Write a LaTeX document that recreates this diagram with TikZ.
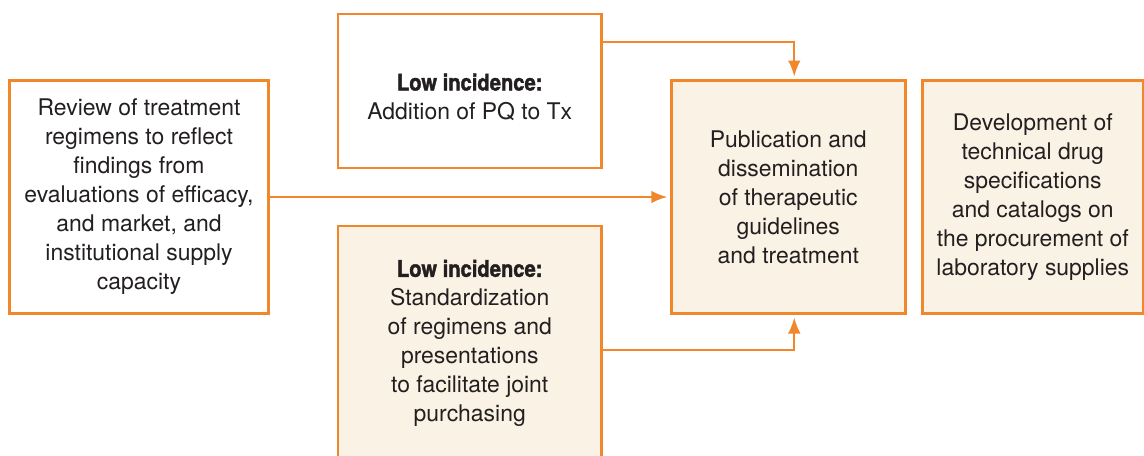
\documentclass[tikz,border=0pt]{standalone}
\usepackage{fontspec}
\setmainfont{TeX Gyre Heros}
\newfontfamily\headfont[FakeStretch=0.88,FakeBold=1.6]{TeX Gyre Heros}
\usetikzlibrary{positioning,arrows.meta}
\definecolor{boxorange}{HTML}{F0872B}
\definecolor{boxfill}{HTML}{FBF2E6}
\definecolor{inktext}{HTML}{231F20}
\tikzset{box/.style={draw=boxorange,line width=2.2pt,outer sep=0pt,align=center,text=inktext,
    font=\fontsize{17.2}{21.75}\selectfont},
  shadedbox/.style={box,fill=boxfill},
  link/.style={draw=boxorange,line width=1.5pt,-{Latex[length=12pt,width=9.5pt]},shorten >=3pt}}
\newcommand{\lowinc}{\rule{0pt}{22pt}{\headfont\bfseries Low incidence:}}

\begin{document}
\begin{tikzpicture}
    \useasboundingbox (0,0) rectangle (858pt,-341.25pt);
    \node[box,minimum width=193.9pt,minimum height=174.75pt] (review) at (104.25pt,-147.75pt)
        {Review of treatment\\regimens to reflect\\findings from\\evaluations of efficacy,\\and market, and\\institutional supply\\capacity};
    \node[shadedbox,minimum width=175.5pt,minimum height=174.75pt,right=302.25pt of review] (pub)
        {Publication and\\dissemination\\of therapeutic\\guidelines\\and treatment};
    \node[shadedbox,minimum width=165.75pt,minimum height=174.75pt,right=12.75pt of pub] (dev)
        {Development of\\technical drug\\specifications\\and catalogs on\\the procurement of\\laboratory supplies};
    \node[box,minimum width=197.6pt,minimum height=115.5pt,anchor=north west] (lowpq) at (253.5pt,-10.5pt)
        {\lowinc\\Addition of PQ to Tx};
    \node[shadedbox,minimum width=197.6pt,minimum height=183pt,anchor=north west] (stdz) at (253.5pt,-169.5pt)
        {\lowinc\\Standardization\\of regimens and\\presentations\\to facilitate joint\\purchasing\rule[-20pt]{0pt}{0pt}};
    \draw[link] (review.east) -- (pub.west);
    \draw[link] ([yshift=-21pt]lowpq.north east) -| ([xshift=4.5pt]pub.north);
    \draw[link] ([yshift=-93pt]stdz.north east) -| ([xshift=4.5pt]pub.south);
\end{tikzpicture}
\end{document}
